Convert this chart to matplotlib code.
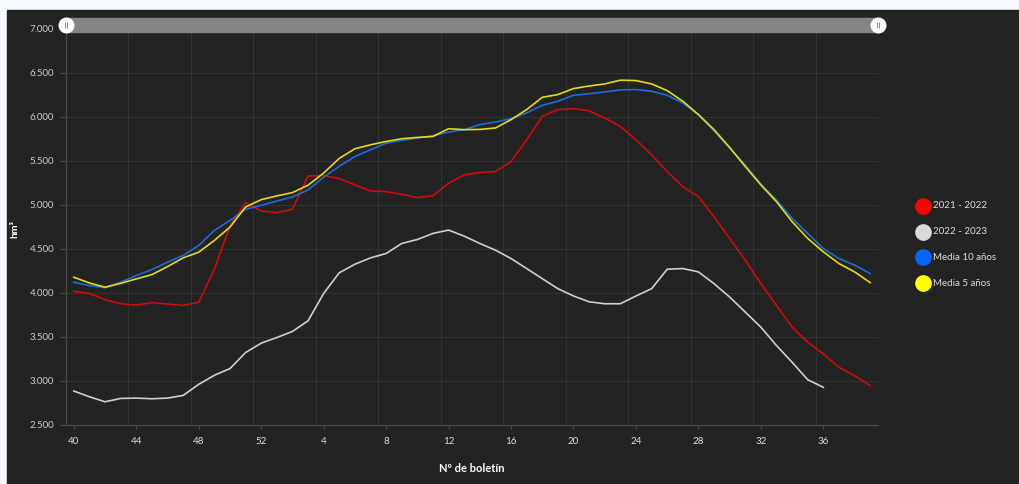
import numpy as np
import matplotlib
matplotlib.use("Agg")
import matplotlib.pyplot as plt
from matplotlib.patches import Rectangle
from matplotlib.lines import Line2D
from matplotlib.ticker import FuncFormatter

plt.rcParams['font.family'] = ['Lato', 'DejaVu Sans']

# semanas del año hidrológico (boletín 40 ... 39)
weeks = list(range(40, 53)) + list(range(1, 40))

r2021_2022 = [4019, 3996, 3924, 3878, 3863, 3890, 3875, 3859, 3894,
              4270, 4760, 5027, 4932, 4913, 4951, 5330, 5335, 5300,
              5228, 5160, 5152, 5122, 5084, 5106, 5247, 5342, 5369, 5380,
              5494, 5741, 6008, 6084, 6095, 6070,
              5989, 5894, 5741, 5570, 5380, 5209, 5095, 4867, 4620, 4373,
              4106, 3859, 3612, 3441, 3308, 3156, 3061, 2947]
r2022_2023 = [2886, 2821, 2764, 2802, 2806, 2798, 2806, 2836, 2962,
              3065, 3141, 3323, 3430, 3494, 3563, 3684, 3995, 4230,
              4327, 4399, 4449, 4563, 4608, 4677, 4715, 4646, 4563, 4487,
              4392, 4278, 4163, 4049, 3966, 3900,
              3878, 3878, 3966, 4049, 4270, 4278, 4240, 4106, 3954, 3783,
              3612, 3403, 3213, 3015, 2928]
media10 = [4122, 4084, 4061, 4122, 4198, 4266, 4350, 4426, 4540,
           4711, 4825, 4951, 4996, 5045, 5091, 5170, 5315, 5440,
           5551, 5627, 5703, 5734, 5760, 5787, 5829, 5856, 5913, 5943,
           5981, 6046, 6133, 6179, 6247, 6264,
           6285, 6308, 6312, 6293, 6247, 6160, 6027, 5844, 5646, 5456,
           5236, 5057, 4848, 4677, 4506, 4392, 4316, 4221]
media5 = [4179, 4114, 4065, 4110, 4160, 4209, 4300, 4399, 4464,
          4597, 4749, 4977, 5061, 5103, 5141, 5225, 5363, 5530,
          5639, 5684, 5722, 5753, 5768, 5779, 5867, 5856, 5859, 5875,
          5970, 6084, 6224, 6255, 6323, 6352,
          6376, 6418, 6414, 6376, 6300, 6179, 6027, 5856, 5654, 5437,
          5228, 5038, 4810, 4620, 4468, 4335, 4240, 4118]

labels = ["2021 - 2022", "2022 - 2023", "Media 10 años", "Media 5 años"]
line_colors = ["#d10a0a", "#cfcfcf", "#1a6ddc", "#e3dc12"]
legend_colors = ["#ff0000", "#d9d9d9", "#0066ff", "#ffff00"]

bg = "#232323"
fig = plt.figure(figsize=(10.19, 4.84), dpi=100)
fig.patch.set_facecolor("#f6f9fd")
fig.add_artist(Rectangle((7 / 1019, 0), 1, (484 - 10) / 484,
                         transform=fig.transFigure, color=bg, zorder=-10))

ax = fig.add_axes([66 / 1019, 59 / 484, 812 / 1019, 396 / 484])
ax.set_facecolor(bg)

x = np.arange(len(weeks))
series = [r2021_2022, r2022_2023, media10, media5]
for vals, c in zip(series, line_colors):
    ax.plot(x[:len(vals)], vals, color=c, lw=1.2, zorder=3)

ax.set_xlim(-0.5, len(weeks) - 0.5)
ax.set_ylim(2500, 7000)
ax.set_yticks(np.arange(2500, 7001, 500))
ax.yaxis.set_major_formatter(FuncFormatter(lambda v, p: f"{int(v):,}".replace(",", ".")))
ax.set_xticks(x[::4])
ax.set_xticklabels([str(w) for w in weeks[::4]])
ax.set_xticks(np.arange(-0.5, len(weeks), 4), minor=True)

ax.grid(axis="y", which="major", color="#333333", lw=0.8)
ax.grid(axis="x", which="minor", color="#333333", lw=0.8)
ax.tick_params(axis="both", which="minor", length=0)
ax.tick_params(axis="y", which="major", length=4.5, width=0.8, color="#4a4a4a",
               labelcolor="#cccccc", labelsize=7, pad=4)
ax.tick_params(axis="x", which="major", length=3, width=0.8, color="#4a4a4a",
               labelcolor="#dddddd", labelsize=7, pad=6)
for s in ["top", "right"]:
    ax.spines[s].set_visible(False)
for s in ["left", "bottom"]:
    ax.spines[s].set_color("#4a4a4a")
    ax.spines[s].set_linewidth(0.9)

# barra de desplazamiento superior
tr = ax.get_xaxis_transform()
x0, x1 = -0.5, len(weeks) - 0.5
ax.add_patch(Rectangle((x0, (425 - 32) / 396), x1 - x0, 14 / 396, transform=tr,
                       color="#858585", clip_on=False, zorder=5))
ygrip = (425 - 25) / 396
for gx in [x0, x1]:
    ax.plot([gx], [ygrip], marker="o", ms=10.5, color="white", mec="white",
            transform=tr, clip_on=False, zorder=6)
    ax.plot([gx - 0.09, gx + 0.09], [ygrip, ygrip], ls="none", marker="|", ms=5,
            mew=0.7, color="#888888", transform=tr, clip_on=False, zorder=7)

fig.text(472 / 1019, 1 - 468 / 484, "Nº de boletín", color="white", fontsize=8,
         fontweight="bold", ha="center", va="center")
fig.text(15 / 1019, 1 - 229 / 484, "hm³", color="white", fontsize=7.5,
         fontweight="bold", ha="center", va="center", rotation=90)

# leyenda
for k, (lab, c) in enumerate(zip(labels, legend_colors)):
    yy = 1 - (206 + k * 25.7) / 484
    fig.add_artist(Line2D([923 / 1019], [yy], marker="o", ms=11, color=c, mec=c,
                          transform=fig.transFigure))
    fig.text(933 / 1019, yy, lab, color="#dddddd", fontsize=7, va="center", ha="left")

fig.savefig("out.png", dpi=100, facecolor=fig.get_facecolor())
